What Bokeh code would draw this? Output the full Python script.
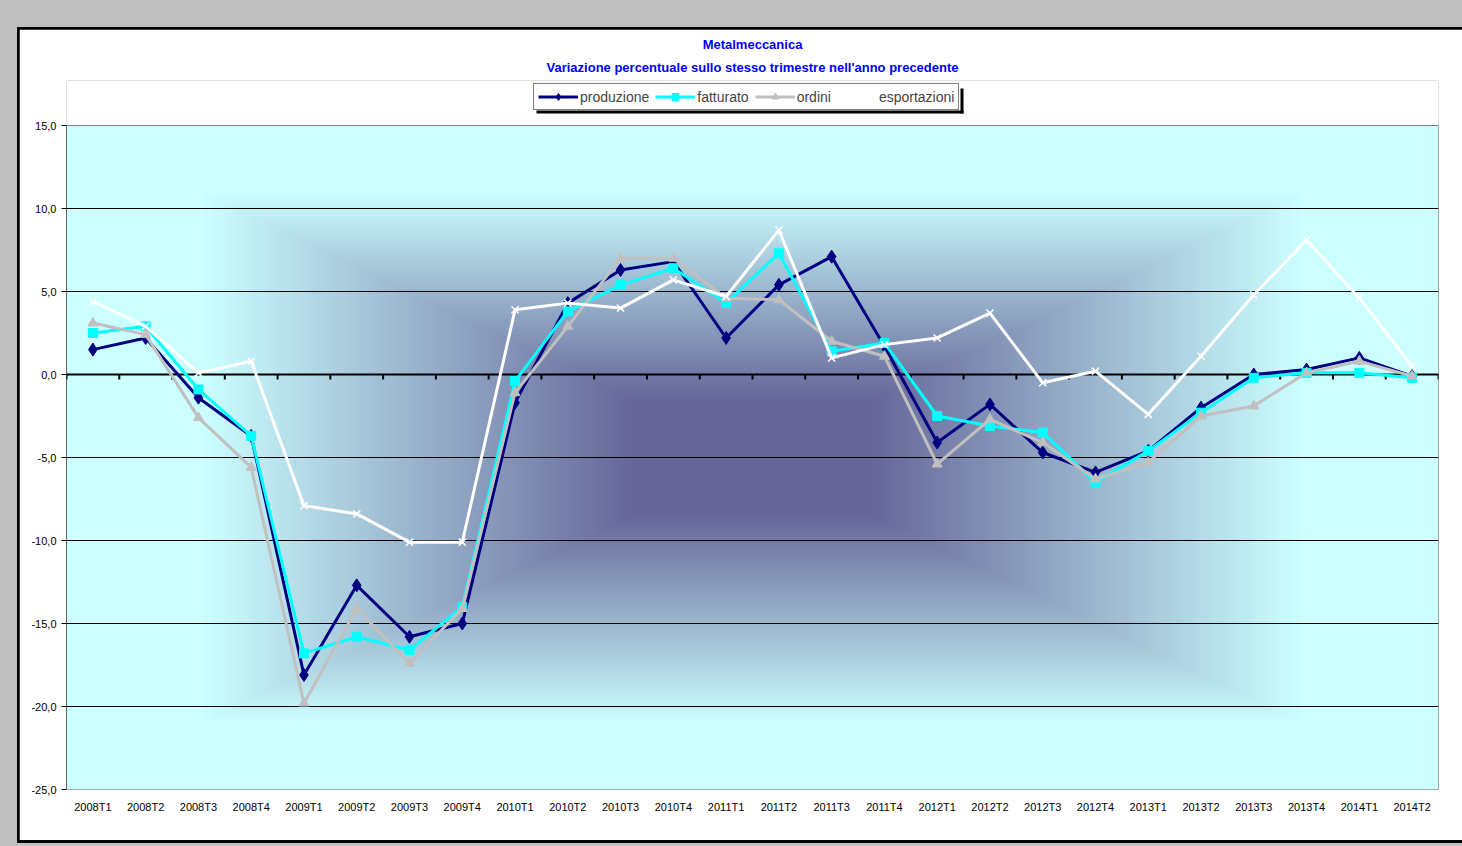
import numpy as np
from bokeh.plotting import figure
from bokeh.layouts import column
from bokeh.models import (FactorRange, Range1d, FixedTicker, Span, Title, BoxAnnotation,
                          Legend, LegendItem)
from bokeh.embed import file_html
from bokeh.resources import INLINE

categories = ["2008T1", "2008T2", "2008T3", "2008T4",
              "2009T1", "2009T2", "2009T3", "2009T4",
              "2010T1", "2010T2", "2010T3", "2010T4",
              "2011T1", "2011T2", "2011T3", "2011T4",
              "2012T1", "2012T2", "2012T3", "2012T4",
              "2013T1", "2013T2", "2013T3", "2013T4",
              "2014T1", "2014T2"]

produzione = [1.5, 2.2, -1.4, -3.7, -18.1, -12.7, -15.8, -15.0,
              -1.7, 4.3, 6.3, 6.8, 2.2, 5.4, 7.1, 1.7,
              -4.1, -1.8, -4.7, -5.9, -4.6, -2.0, 0.0, 0.3, 1.0, -0.1]
fatturato = [2.5, 2.9, -0.9, -3.7, -16.8, -15.8, -16.6, -14.0,
             -0.4, 3.8, 5.4, 6.4, 4.3, 7.3, 1.4, 1.9,
             -2.5, -3.1, -3.5, -6.5, -4.6, -2.3, -0.2, 0.1, 0.1, -0.2]
ordini = [3.1, 2.4, -2.6, -5.6, -19.8, -14.1, -17.4, -14.1,
          -1.1, 2.9, 7.0, 7.0, 4.6, 4.5, 2.0, 1.1,
          -5.4, -2.7, -4.1, -6.3, -5.3, -2.5, -1.9, 0.1, 0.8, -0.1]
esportazioni = [4.4, 2.9, 0.1, 0.8, -7.9, -8.4, -10.1, -10.1,
                3.9, 4.3, 4.0, 5.7, 4.7, 8.7, 1.0, 1.8,
                2.2, 3.7, -0.5, 0.2, -2.4, 1.1, 4.8, 8.1, 4.6, 0.5]

y_ticks = [15, 10, 5, 0, -5, -10, -15, -20, -25]
y_tick_labels = ["15,0", "10,0", "5,0", "0,0", "-5,0", "-10,0", "-15,0", "-20,0", "-25,0"]

title_lines = ["Metalmeccanica",
               "Variazione percentuale sullo stesso trimestre nell'anno precedente"]

FONT = "Liberation Sans"
Y_MIN, Y_MAX = -25, 15
N = len(categories)

# page geometry of the plot area (pixels)
PL, PR, PT, PB = 66, 1438, 125, 789
FT = 80                      # frame extended upward to hold the legend
ky = (PB - PT) / (Y_MAX - Y_MIN)
kx = (PR - PL) / N
Y_TOP = Y_MAX + (PT - FT) / ky
def X(px):
    return (px - PL) / kx
def Y(py):
    return Y_MAX - (py - PT) / ky

ORIG_X, ORIG_Y = 19, 29      # canvas origin on the page (inside grey + black border)

p = figure(frame_width=PR - PL, frame_height=PB - FT,
           x_range=FactorRange(*categories, range_padding=0),
           y_range=Range1d(Y_MIN, Y_TOP), output_backend="svg", toolbar_location=None,
           min_border_left=PL - ORIG_X, min_border_right=1462 - PR,
           min_border_top=FT - ORIG_Y, min_border_bottom=846 - 6 - PB)
p.border_fill_color = "white"
p.background_fill_color = "white"
p.outline_line_color = None

# gradient background ("from centre" rectangular gradient)
gw, gh = 686, 332
gx = np.abs(np.linspace(-1, 1, gw))[None, :]
gy = np.abs(np.linspace(-1, 1, gh))[:, None]
t = np.maximum(gx, gy)
t = np.clip((t - 0.17) / (0.80 - 0.17), 0, 1)
c0 = np.array([102, 102, 153], dtype=float)
c1 = np.array([204, 255, 255], dtype=float)
img = np.empty((gh, gw), dtype=np.uint32)
view = img.view(dtype=np.uint8).reshape((gh, gw, 4))
for k in range(3):
    view[:, :, k] = (c0[k] + (c1[k] - c0[k]) * t).astype(np.uint8)
view[:, :, 3] = 255
p.image_rgba(image=[img], x=0, y=Y_MIN, dw=N, dh=Y_MAX - Y_MIN, level="image")

# grid (inner lines black, plot-area border grey)
p.xgrid.grid_line_color = None
p.ygrid.ticker = FixedTicker(ticks=y_ticks[1:-1])
p.ygrid.grid_line_color = "#000000"
p.ygrid.grid_line_width = 1
for loc in (Y_MAX, Y_MIN):
    p.add_layout(Span(location=loc, dimension="width", line_color="#808080", line_width=1))
p.segment(x0=[N], y0=[Y_MIN], x1=[N], y1=[Y_MAX], line_color="#808080", line_width=1)
p.segment(x0=[0], y0=[Y_MIN], x1=[0], y1=[Y_MAX], line_color="#000000", line_width=1)

# axes
p.yaxis.ticker = FixedTicker(ticks=y_ticks)
p.yaxis.major_label_overrides = dict(zip(y_ticks, y_tick_labels))
p.yaxis.major_tick_in = 0
p.yaxis.major_tick_out = 5
p.yaxis.minor_tick_line_color = None
p.yaxis.axis_line_color = None
p.yaxis.major_tick_line_color = "#000000"
p.yaxis.major_label_text_font = FONT
p.yaxis.major_label_text_font_size = "11px"
p.yaxis.major_label_text_color = "#000000"
p.yaxis.major_label_standoff = 5

p.xaxis.axis_line_color = None
p.xaxis.major_tick_line_color = None
p.xaxis.minor_tick_line_color = None
p.xaxis.major_label_text_font = FONT
p.xaxis.major_label_text_font_size = "11px"
p.xaxis.major_label_text_color = "#000000"
p.xaxis.major_label_standoff = 5

# zero line with category tick marks
bounds = list(range(N + 1))
p.segment(x0=[0], y0=[0], x1=[N], y1=[0], line_color="#000000", line_width=2)
p.segment(x0=bounds, y0=[0] * len(bounds), x1=bounds, y1=[-5 / ky] * len(bounds),
          line_color="#000000", line_width=2)

# series
series = [
    ("produzione", produzione, "#000080", "diamond", 13),
    ("fatturato", fatturato, "#00ffff", "square", 9),
    ("ordini", ordini, "#c0c0c0", "triangle", 10),
    ("esportazioni", esportazioni, "#ffffff", "x", 10),
]
items = []
for name, vals, col, mk, sz in series:
    r1 = p.line(categories, vals, line_color=col, line_width=3)
    if mk == "x":
        r2 = p.scatter(categories, vals, marker=mk, size=sz, line_color=col, line_width=1.5)
    else:
        r2 = p.scatter(categories, vals, marker=mk, size=sz, fill_color=col, line_color=col)
    items.append(LegendItem(label=name, renderers=[r1, r2]))

# white masks over the frame edge above the plot area (outside the chart's plot area)
for l, r, t_, b in ((PL - 3, PR + 3, FT - 3, FT + 2),
                    (PL - 3, PL + 2, FT - 3, PT - 1),
                    (PR - 2, PR + 3, FT - 3, PT - 1)):
    p.add_layout(BoxAnnotation(left=X(l), right=X(r), top=Y(t_), bottom=Y(b),
                               fill_color="white", fill_alpha=1, line_color=None,
                               level="overlay"))

LEG_L, LEG_R, LEG_T, LEG_B = 533, 960, 85, 110
legend = Legend(items=items, orientation="horizontal",
                location=(LEG_L - PL, PB - LEG_B),
                border_line_color="#000000", border_line_width=1,
                background_fill_color="white", background_fill_alpha=1,
                label_text_font=FONT, label_text_font_size="14px",
                glyph_width=40, glyph_height=17, label_height=17,
                label_standoff=2, spacing=6, padding=4, margin=0)
p.add_layout(legend, "center")

# legend drop shadow
for l, r, t_, b in ((LEG_R, LEG_R + 3, LEG_T + 3, LEG_B + 3),
                    (LEG_L + 3, LEG_R + 3, LEG_B, LEG_B + 3)):
    p.add_layout(BoxAnnotation(left=X(l), right=X(r), top=Y(t_), bottom=Y(b),
                               fill_color="#000000", fill_alpha=1, line_color=None))

# titles (stacked outward from the frame)
for line, so in zip(reversed(title_lines), (12, 0)):
    p.add_layout(Title(text=line, align="center", text_font=FONT,
                       text_font_size="13px", text_font_style="bold",
                       text_color="#0000ff", standoff=so), "above")

# grey surround and black chart border
inner = column(p, styles={"background-color": "#000000",
                          "padding": "2px 0px 3px 2px"})
page = column(inner, styles={"background-color": "#c0c0c0",
                             "padding": "27px 0px 3px 17px"})

open("out.html", "w").write(file_html(page, INLINE))
